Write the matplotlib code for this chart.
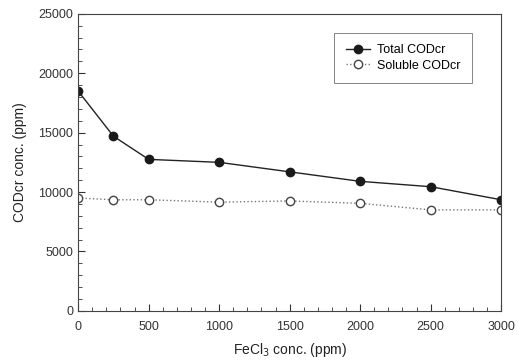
import matplotlib
matplotlib.use('Agg')
import matplotlib.pyplot as plt
from matplotlib.ticker import MultipleLocator

plt.rcParams['font.family'] = ['Liberation Sans', 'DejaVu Sans']

# FeCl3 dose (ppm) and COD values
dose = [0, 250, 500, 1000, 1500, 2000, 2500, 3000]
total_cod = [18500, 14700, 12750, 12500, 11700, 10900, 10450, 9350]
soluble_cod = [9500, 9350, 9350, 9150, 9250, 9050, 8500, 8500]

fig = plt.figure(figsize=(5.21, 3.64), dpi=100)
ax = fig.add_axes([0.150, 0.146, 0.812, 0.816])

ax.plot(dose, total_cod, '-', color='#222222', lw=1.0, marker='o',
        ms=6, mfc='#1a1a1a', mec='#1a1a1a', label='Total CODcr')
ax.plot(dose, soluble_cod, ':', color='#777777', lw=1.0, marker='o',
        ms=6, mfc='white', mec='#444444', label='Soluble CODcr')

ax.set_xlim(0, 3000)
ax.set_ylim(0, 25000)
ax.xaxis.set_major_locator(MultipleLocator(500))
ax.xaxis.set_minor_locator(MultipleLocator(100))
ax.yaxis.set_major_locator(MultipleLocator(5000))
ax.yaxis.set_minor_locator(MultipleLocator(1000))
ax.tick_params(which='both', direction='in', labelsize=9, colors='#333333')
ax.tick_params(which='major', length=5)
ax.tick_params(which='minor', length=3)
ax.tick_params(axis='x', pad=7)
for s in ax.spines.values():
    s.set_color('#444444')
    s.set_linewidth(0.8)

ax.set_xlabel('FeCl$_3$ conc. (ppm)', fontsize=10, color='#222222', labelpad=6)
ax.set_ylabel('CODcr conc. (ppm)', fontsize=10, color='#222222', labelpad=8)

leg = ax.legend(loc='upper right', bbox_to_anchor=(0.932, 0.937), fontsize=9,
                frameon=True, fancybox=False, edgecolor='#666666',
                handlelength=1.9, handletextpad=0.6, borderpad=0.95,
                borderaxespad=0, labelspacing=0.25)
leg.get_frame().set_linewidth(0.7)

fig.savefig('out.png', dpi=100)
